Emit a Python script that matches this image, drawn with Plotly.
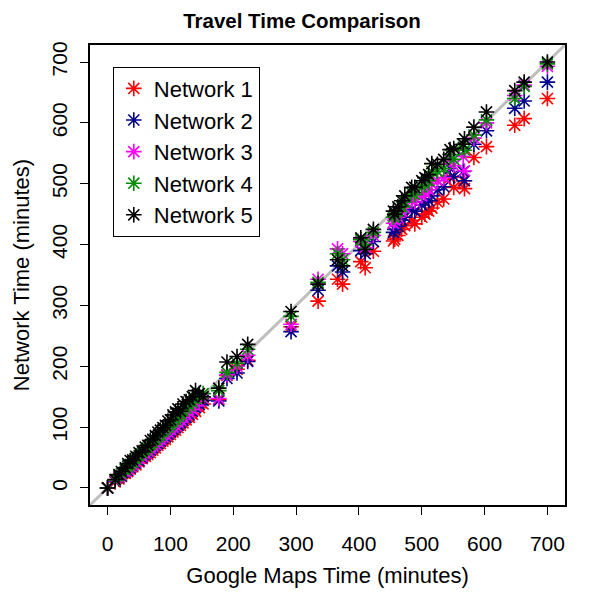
import plotly.graph_objects as go

# google maps time for each trip (minutes)
google = [0, 12, 18, 22, 28, 32, 36, 40, 45, 50, 55, 60, 64, 68, 72, 76, 80, 84, 88, 92,
          96, 100, 104, 108, 112, 116, 120, 125, 130, 135, 140, 146, 152,
          177, 190, 206, 223, 292, 335, 366, 374, 403, 410, 423,
          455, 457, 462, 468, 473, 484, 489, 500, 505, 511, 516, 525, 535, 545, 551,
          566, 568, 583, 603, 648, 663, 700]

# network times for the same trips
net1 = [0, 10, 15, 19, 24, 27, 31, 35, 38, 43, 48, 52, 55, 58, 62, 66, 70, 73, 77, 80,
        84, 88, 92, 95, 99, 103, 107, 112, 116, 121, 126, 132, 138,
        145, 185, 195, 210, 265, 307, 343, 335, 372, 362, 389,
        406, 409, 415, 425, 431, 440, 434, 445, 450, 455, 460, 470, 475, 510, 494,
        505, 492, 543, 561, 596, 607, 640]
net2 = [0, 11, 17, 20, 26, 29, 33, 37, 41, 45, 50, 55, 58, 62, 66, 70, 73, 77, 81, 84,
        88, 92, 96, 99, 103, 107, 111, 116, 120, 126, 132, 137, 144,
        143, 180, 189, 208, 257, 325, 365, 355, 390, 385, 405,
        420, 425, 430, 440, 445, 458, 455, 465, 470, 472, 480, 490, 495, 525, 512,
        520, 505, 565, 587, 624, 636, 667]
net3 = [0, 12, 18, 22, 27, 31, 35, 38, 43, 48, 52, 57, 61, 65, 69, 72, 76, 80, 84, 88,
        92, 96, 100, 103, 108, 112, 116, 120, 124, 129, 135, 142, 148,
        147, 186, 200, 218, 269, 343, 393, 385, 405, 395, 415,
        435, 440, 445, 455, 460, 475, 470, 480, 485, 490, 500, 505, 510, 540, 530,
        545, 521, 575, 600, 645, 662, 693]
net4 = [0, 13, 20, 24, 30, 35, 39, 42, 47, 53, 57, 62, 66, 71, 74, 79, 84, 87, 92, 96,
        100, 104, 108, 112, 117, 121, 126, 131, 135, 140, 147, 150, 155,
        160, 190, 205, 228, 282, 338, 385, 375, 408, 400, 420,
        445, 448, 455, 462, 470, 485, 482, 495, 498, 505, 520, 520, 525, 548, 540,
        560, 555, 580, 605, 640, 660, 697]
net5 = [0, 14, 22, 27, 33, 40, 45, 46, 52, 58, 61, 67, 70, 78, 80, 86, 92, 95, 99, 103,
        110, 112, 120, 125, 130, 126, 138, 142, 145, 150, 160, 155, 150,
        164, 207, 216, 236, 290, 335, 375, 365, 411, 392, 425,
        455, 450, 462, 472, 480, 494, 494, 505, 510, 515, 533, 532, 540, 556, 558,
        565, 574, 593, 618, 653, 667, 700]

names = ["Network 1", "Network 2", "Network 3", "Network 4", "Network 5"]
colors = ["#FF0000", "#00008B", "#FF00FF", "#008B00", "#000000"]
series = [net1, net2, net3, net4, net5]

axis_range = [-28, 728]
ticks = [0, 100, 200, 300, 400, 500, 600, 700]

fig = go.Figure()

# reference line y = x
fig.add_trace(go.Scatter(x=axis_range, y=axis_range, mode="lines",
                         line=dict(color="#BEBEBE", width=3), showlegend=False,
                         hoverinfo="skip"))

for name, col, vals in zip(names, colors, series):
    fig.add_trace(go.Scatter(
        x=google, y=vals, mode="markers", name=name,
        marker=dict(symbol="asterisk-open", size=13, color=col,
                    line=dict(color=col, width=1.6)),
    ))

axis_style = dict(range=axis_range, tickvals=ticks, showgrid=False, zeroline=False,
                  showline=True, linecolor="black", linewidth=1.6, mirror=True,
                  ticks="outside", ticklen=8, tickwidth=1.3, tickcolor="black",
                  tickfont=dict(size=21, color="black"))

fig.update_xaxes(**axis_style, ticklabelstandoff=11,
                 title=dict(text="Google Maps Time (minutes)", font=dict(size=22), standoff=14))
fig.update_yaxes(**axis_style, tickangle=-90, ticklabelstandoff=5,
                 title=dict(text="Network Time (minutes)", font=dict(size=22), standoff=12))

fig.update_layout(
    width=600, height=600,
    font=dict(family="Liberation Sans, Arial, sans-serif", color="black"),
    title=dict(text="<b>Travel Time Comparison</b>", x=0.49, xanchor="center",
               y=0.978, yanchor="middle", font=dict(size=20.5)),
    plot_bgcolor="white", paper_bgcolor="white",
    margin=dict(l=82, r=43, t=37, b=103),
    legend=dict(x=0.048, y=0.953, xanchor="left", yanchor="top",
                bordercolor="black", borderwidth=1, bgcolor="white",
                font=dict(size=22), itemwidth=30, tracegroupgap=0),
    showlegend=True,
)

fig.write_html("out.html")
